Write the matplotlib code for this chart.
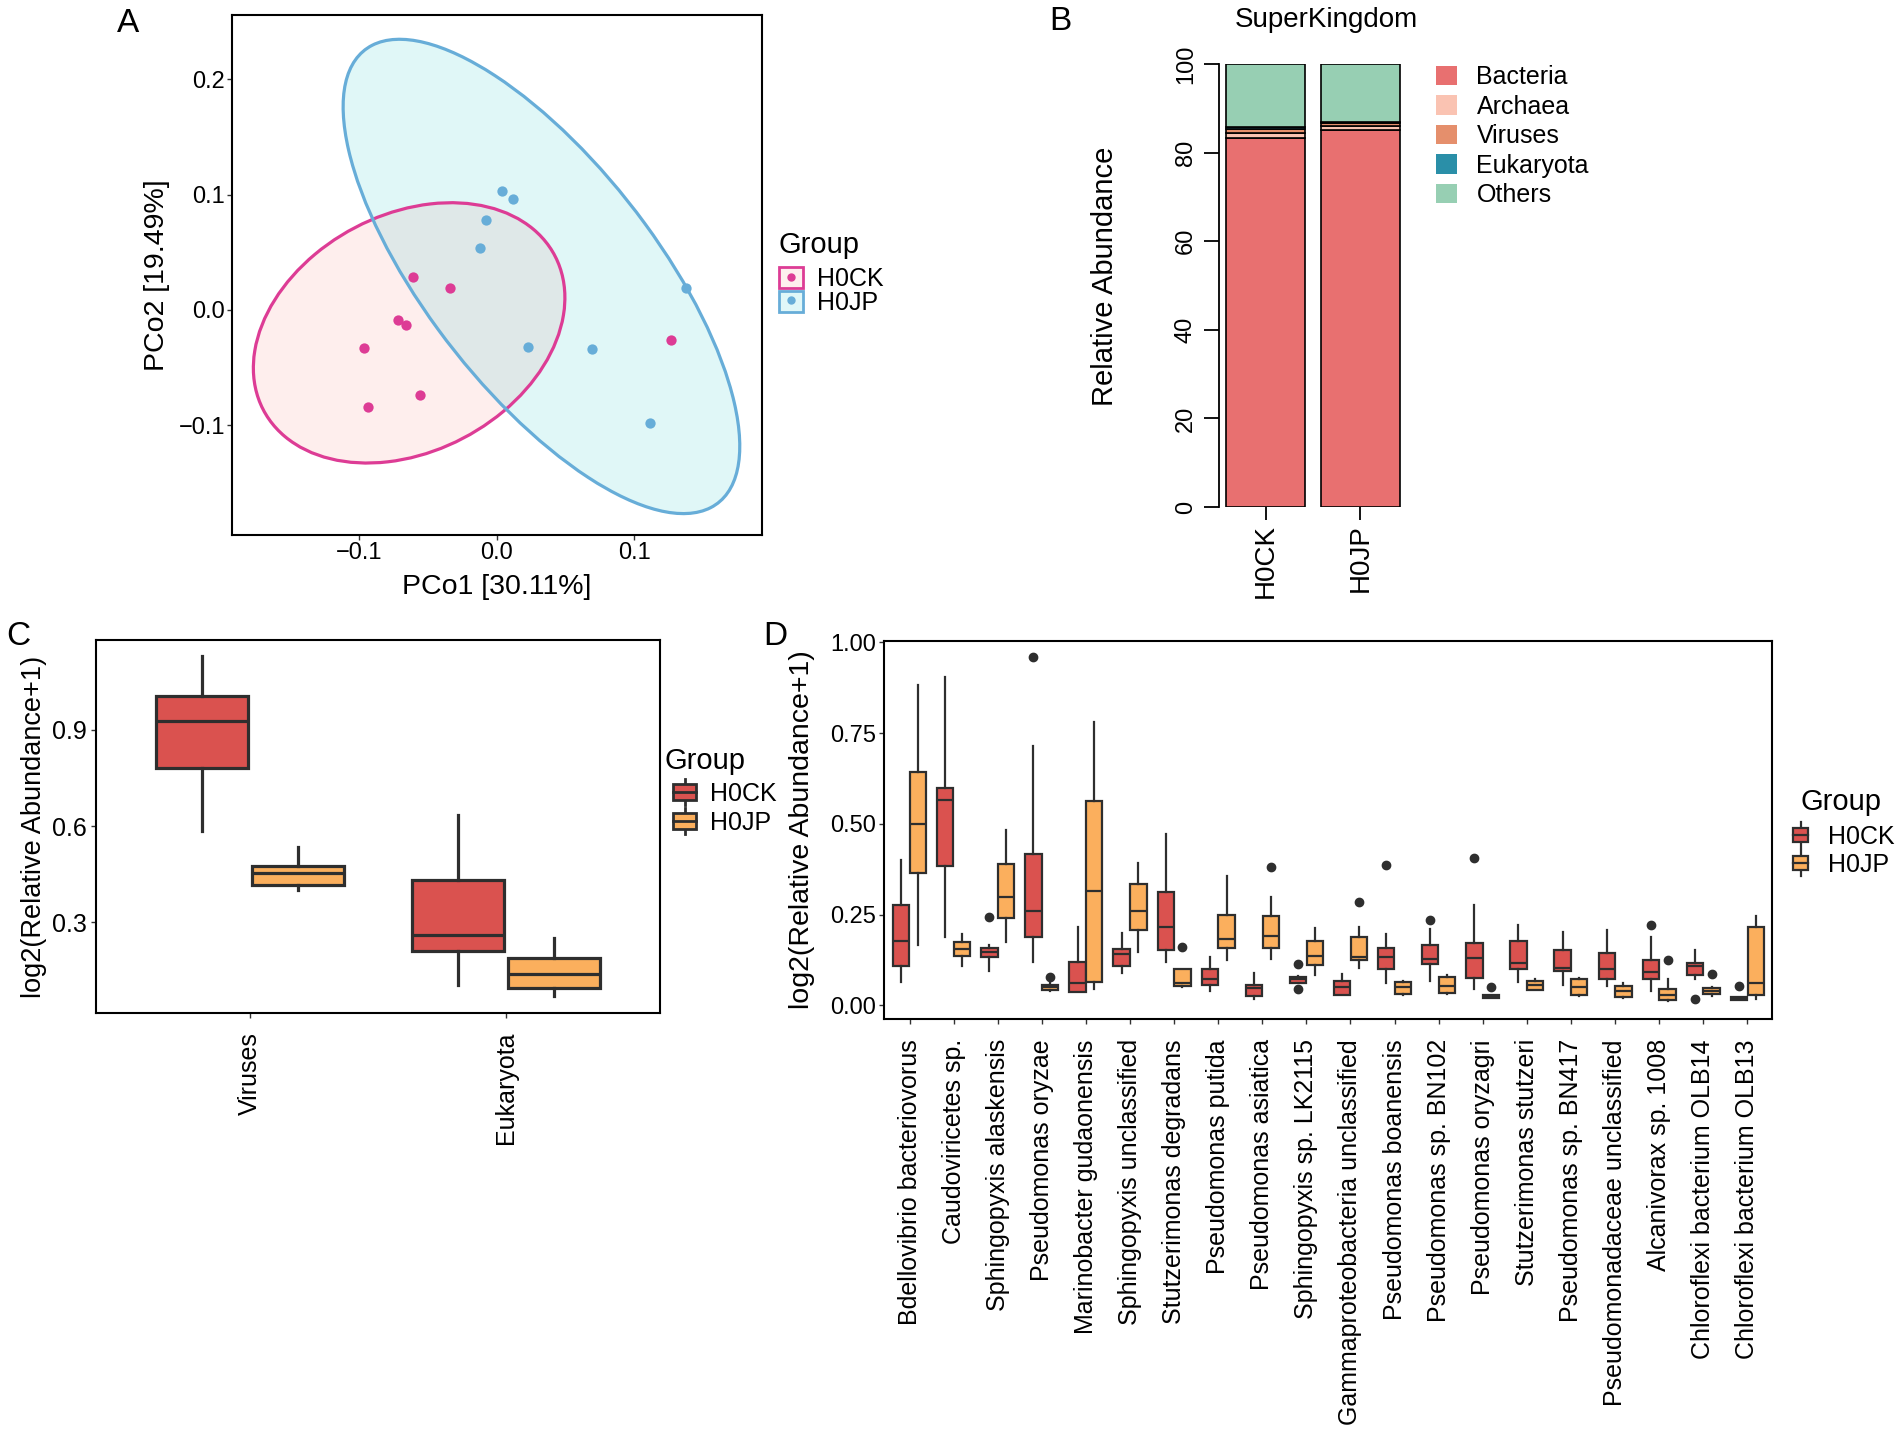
import numpy as np
import matplotlib
matplotlib.use('Agg')
import matplotlib.pyplot as plt
from matplotlib.patches import Ellipse, Patch, Rectangle
from matplotlib.lines import Line2D
from matplotlib.legend_handler import HandlerBase

plt.rcParams['font.family'] = ['Liberation Sans', 'DejaVu Sans']

W, H = 1902, 1438

# ---------------- data ----------------
# A: PCoA scores
ck_pc1 = [-0.0607, -0.0338, -0.0716, -0.0655, -0.0963, -0.0936, -0.0558, 0.1266]
ck_pc2 = [0.0282, 0.0192, -0.0086, -0.0134, -0.0330, -0.0842, -0.0739, -0.0265]
jp_pc1 = [0.0040, 0.0119, -0.0079, -0.0119, 0.0224, 0.0690, 0.1112, 0.1376]
jp_pc2 = [0.1034, 0.0966, 0.0780, 0.0540, -0.0323, -0.0337, -0.0979, 0.0192]
# ellipse centre and shape matrix
ck_ell_center = [-0.0635, -0.020]
ck_ell_shape = [[0.01277, 0.00345], [0.00345, 0.01277]]
jp_ell_center = [0.0325, 0.029]
jp_ell_shape = [[0.0207, -0.0212], [-0.0212, 0.0424]]

# B: superkingdom composition (%)
groups = ['H0CK', 'H0JP']
kingdoms = ['Bacteria', 'Archaea', 'Viruses', 'Eukaryota', 'Others']
abund = {
    'Bacteria': [83.3, 85.0],
    'Archaea': [1.1, 1.1],
    'Viruses': [1.0, 0.5],
    'Eukaryota': [0.3, 0.3],
    'Others': [14.3, 13.1],
}

# C: box stats [whislo, q1, med, q3, whishi]
c_cats = ['Viruses', 'Eukaryota']
c_ck = [[0.585, 0.780, 0.928, 1.006, 1.129],
        [0.104, 0.210, 0.260, 0.433, 0.635]]
c_jp = [[0.402, 0.415, 0.453, 0.477, 0.536],
        [0.070, 0.096, 0.139, 0.189, 0.251]]

# D: species box stats [whislo, q1, med, q3, whishi] + outliers
d_species = ['Bdellovibrio bacteriovorus', 'Caudoviricetes sp.', 'Sphingopyxis alaskensis',
             'Pseudomonas oryzae', 'Marinobacter gudaonensis', 'Sphingopyxis unclassified',
             'Stutzerimonas degradans', 'Pseudomonas putida', 'Pseudomonas asiatica',
             'Sphingopyxis sp. LK2115', 'Gammaproteobacteria unclassified', 'Pseudomonas boanensis',
             'Pseudomonas sp. BN102', 'Pseudomonas oryzagri', 'Stutzerimonas stutzeri',
             'Pseudomonas sp. BN417', 'Pseudomonadaceae unclassified', 'Alcanivorax sp. 1008',
             'Chloroflexi bacterium OLB14', 'Chloroflexi bacterium OLB13']
d_ck = [[0.064, 0.109, 0.177, 0.275, 0.401],
        [0.188, 0.383, 0.567, 0.598, 0.906],
        [0.094, 0.132, 0.146, 0.158, 0.166],
        [0.118, 0.188, 0.259, 0.418, 0.714],
        [0.036, 0.036, 0.060, 0.120, 0.216],
        [0.089, 0.109, 0.142, 0.156, 0.199],
        [0.118, 0.153, 0.216, 0.311, 0.473],
        [0.040, 0.057, 0.073, 0.101, 0.133],
        [0.016, 0.025, 0.047, 0.057, 0.089],
        [0.060, 0.062, 0.071, 0.077, 0.080],
        [0.027, 0.029, 0.050, 0.066, 0.086],
        [0.062, 0.100, 0.133, 0.158, 0.195],
        [0.066, 0.114, 0.128, 0.165, 0.210],
        [0.045, 0.075, 0.129, 0.172, 0.275],
        [0.063, 0.101, 0.117, 0.176, 0.222],
        [0.057, 0.094, 0.103, 0.153, 0.201],
        [0.054, 0.071, 0.101, 0.144, 0.208],
        [0.039, 0.071, 0.092, 0.126, 0.188],
        [0.071, 0.082, 0.107, 0.115, 0.152],
        [0.013, 0.013, 0.017, 0.022, 0.022]]
d_ck_out = [[], [], [0.244], [0.959], [], [], [], [], [], [0.114, 0.045],
            [], [0.387], [0.234], [0.405], [], [], [], [0.222], [0.018], [0.054]]
d_jp = [[0.166, 0.365, 0.500, 0.643, 0.884],
        [0.107, 0.135, 0.155, 0.174, 0.197],
        [0.174, 0.241, 0.297, 0.389, 0.484],
        [0.039, 0.043, 0.050, 0.057, 0.062],
        [0.045, 0.064, 0.316, 0.563, 0.782],
        [0.147, 0.207, 0.261, 0.335, 0.392],
        [0.050, 0.054, 0.062, 0.100, 0.100],
        [0.124, 0.158, 0.183, 0.248, 0.357],
        [0.128, 0.158, 0.190, 0.245, 0.299],
        [0.082, 0.110, 0.137, 0.176, 0.213],
        [0.103, 0.126, 0.133, 0.187, 0.216],
        [0.029, 0.032, 0.050, 0.063, 0.066],
        [0.032, 0.034, 0.052, 0.078, 0.084],
        [0.020, 0.020, 0.025, 0.029, 0.029],
        [0.041, 0.043, 0.057, 0.068, 0.071],
        [0.025, 0.028, 0.050, 0.073, 0.075],
        [0.020, 0.023, 0.039, 0.054, 0.060],
        [0.011, 0.013, 0.028, 0.045, 0.071],
        [0.025, 0.031, 0.039, 0.048, 0.050],
        [0.017, 0.029, 0.062, 0.216, 0.247]]
d_jp_out = [[], [], [], [0.078], [], [], [0.160], [], [0.382], [],
            [0.284], [], [], [0.050], [], [], [], [0.124], [0.087], []]

# ---------------- styles ----------------
PINK, BLUE = '#DD3C95', '#67ADD8'
RED, ORANGE = '#DA524F', '#FBAF5D'
EDGE = '#2E2E2E'
K_COLORS = ['#E87070', '#FAC3B2', '#E58F6C', '#2A8FA8', '#97CFB3']

fig = plt.figure(figsize=(W / 100, H / 100), dpi=100)


def px_axes(x0, y0, x1, y1):
    return fig.add_axes([x0 / W, 1 - y1 / H, (x1 - x0) / W, (y1 - y0) / H])


def frame(ax, lw=1.5):
    for s in ax.spines.values():
        s.set_linewidth(lw)
        s.set_color('black')


def to_stats(rows, outs=None):
    res = []
    for i, r in enumerate(rows):
        res.append(dict(whislo=r[0], q1=r[1], med=r[2], q3=r[3], whishi=r[4],
                        fliers=(outs[i] if outs else [])))
    return res


def group_title(x, y):
    fig.text(x / W, 1 - y / H, 'Group', fontsize=21, ha='left', va='center')


class BoxKey(HandlerBase):
    def __init__(self, lw, ext):
        super().__init__()
        self.lw = lw
        self.ext = ext

    def create_artists(self, legend, orig_handle, xdescent, ydescent, width, height, fontsize, trans):
        x0, y0 = -xdescent, -ydescent
        cx = x0 + width / 2
        fc = orig_handle.get_facecolor()
        wl = Line2D([cx, cx], [y0 - self.ext * height, y0 + (1 + self.ext) * height],
                    color=EDGE, lw=self.lw, transform=trans)
        box = Rectangle((x0, y0), width, height, facecolor=fc, edgecolor=EDGE,
                        lw=self.lw, transform=trans)
        med = Line2D([x0, x0 + width], [y0 + height / 2] * 2, color=EDGE, lw=self.lw, transform=trans)
        return [wl, box, med]


# ---------------- A ----------------
axA = px_axes(232, 15, 762, 535)
for c, S, col, fcol in [(ck_ell_center, ck_ell_shape, PINK, '#F8766D'),
                        (jp_ell_center, jp_ell_shape, BLUE, '#00BFC4')]:
    vals, vecs = np.linalg.eigh(np.array(S))
    ang = np.degrees(np.arctan2(vecs[1, 1], vecs[0, 1]))
    e = Ellipse(c, 2 * np.sqrt(vals[1]), 2 * np.sqrt(vals[0]), angle=ang,
                facecolor=fcol, alpha=0.12, edgecolor='none', zorder=1)
    axA.add_patch(e)
for c, S, col in [(ck_ell_center, ck_ell_shape, PINK), (jp_ell_center, jp_ell_shape, BLUE)]:
    vals, vecs = np.linalg.eigh(np.array(S))
    ang = np.degrees(np.arctan2(vecs[1, 1], vecs[0, 1]))
    e = Ellipse(c, 2 * np.sqrt(vals[1]), 2 * np.sqrt(vals[0]), angle=ang,
                facecolor='none', edgecolor=col, lw=2.3, zorder=2)
    axA.add_patch(e)
axA.scatter(ck_pc1, ck_pc2, s=55, color=PINK, zorder=3, linewidths=0)
axA.scatter(jp_pc1, jp_pc2, s=55, color=BLUE, zorder=3, linewidths=0)
axA.set_xlim(-0.192, 0.1925)
axA.set_ylim(-0.1955, 0.256)
axA.set_xticks([-0.1, 0.0, 0.1])
axA.set_xticklabels(['\u22120.1', '0.0', '0.1'])
axA.set_yticks([-0.1, 0.0, 0.1, 0.2])
axA.set_yticklabels(['\u22120.1', '0.0', '0.1', '0.2'])
axA.tick_params(labelsize=17, length=3.5, width=1, pad=1.5, color='#333333')
axA.set_xlabel('PCo1 [30.11%]', fontsize=20.5)
axA.set_ylabel('PCo2 [19.49%]', fontsize=20.5)
axA.xaxis.set_label_coords(0.5, -0.075)
axA.yaxis.set_label_coords(-0.117, 0.5)
frame(axA)
handlesA = [(Patch(facecolor='#FEEFEE', edgecolor=PINK, lw=2),
             Line2D([], [], ls='none', marker='o', ms=5, color=PINK)),
            (Patch(facecolor='#E0F7F8', edgecolor=BLUE, lw=2),
             Line2D([], [], ls='none', marker='o', ms=5, color=BLUE))]
group_title(779, 245)
fig.legend(handlesA, groups, loc='upper left', bbox_to_anchor=(779 / W, 1 - 267 / H),
           frameon=False, borderpad=0, borderaxespad=0, fontsize=18,
           handlelength=0.96, handleheight=0.92, labelspacing=-0.02, handletextpad=0.55)

# ---------------- B ----------------
axB = px_axes(1219, 64, 1407, 507)
xb = [0.7, 1.9]
bottom = np.zeros(2)
for k, col in zip(kingdoms, K_COLORS):
    axB.bar(xb, abund[k], width=1.0, bottom=bottom, color=col, edgecolor='black', lw=1.2, zorder=2)
    bottom += np.array(abund[k])
axB.set_xlim(0.11, 2.49)
axB.set_ylim(0, 100)
for s in ['top', 'right', 'bottom']:
    axB.spines[s].set_visible(False)
axB.spines['left'].set_linewidth(1.3)
axB.set_yticks(range(0, 101, 20))
axB.tick_params(axis='y', labelsize=17, length=11, width=1.3, pad=5, labelrotation=90)
for lab in axB.get_yticklabels():
    lab.set_va('center')
axB.set_xticks(xb)
axB.set_xticklabels(groups, rotation=90, fontsize=20)
axB.tick_params(axis='x', length=9, width=1.3, pad=3)
axB.set_ylabel('Relative Abundance', fontsize=21)
axB.yaxis.set_label_coords(-0.53, 0.52)
fig.text(1326 / W, 1 - 20 / H, 'SuperKingdom', fontsize=20, ha='center', va='center')
handlesB = [Patch(facecolor=col, edgecolor='none') for col in K_COLORS]
fig.legend(handlesB, kingdoms, loc='upper left', bbox_to_anchor=(1436 / W, 1 - 65 / H),
           frameon=False, borderpad=0, borderaxespad=0, fontsize=18,
           handlelength=0.82, handleheight=0.82, labelspacing=0.22, handletextpad=0.8)

# ---------------- C ----------------
axC = px_axes(96, 640, 660, 1013)
xc = np.arange(1, len(c_cats) + 1)
for stats, off, col in [(c_ck, -0.1875, RED), (c_jp, 0.1875, ORANGE)]:
    axC.bxp(to_stats(stats), positions=xc + off, widths=0.36, patch_artist=True,
            showcaps=False, showfliers=False,
            boxprops=dict(facecolor=col, edgecolor=EDGE, lw=2.3),
            medianprops=dict(color=EDGE, lw=2.3),
            whiskerprops=dict(color=EDGE, lw=2.3))
axC.set_xlim(0.4, 2.6)
axC.set_ylim(0.018, 1.179)
axC.set_xticks(xc)
axC.set_xticklabels(c_cats, rotation=90, fontsize=18)
axC.set_yticks([0.3, 0.6, 0.9])
axC.set_yticklabels(['0.3', '0.6', '0.9'])
axC.tick_params(axis='y', labelsize=18, length=3.5, width=1, pad=3, color='#333333')
axC.tick_params(axis='x', length=3.5, width=1, pad=10, color='#333333')
axC.set_ylabel('log2(Relative Abundance+1)', fontsize=19.5)
axC.yaxis.set_label_coords(-0.087, 0.5)
frame(axC)
hC = [Patch(facecolor=RED), Patch(facecolor=ORANGE)]
group_title(664, 761)
fig.legend(hC, groups, loc='upper left', bbox_to_anchor=(673 / W, 1 - 782 / H),
           frameon=False, borderpad=0, borderaxespad=0, fontsize=18,
           handlelength=0.92, handleheight=0.6, labelspacing=0.19, handletextpad=0.55,
           handler_map={hC[0]: BoxKey(2.0, 0.33), hC[1]: BoxKey(2.0, 0.33)})

# ---------------- D ----------------
axD = px_axes(884, 641, 1772, 1019)
xd = np.arange(1, len(d_species) + 1)
for stats, outs, off, col in [(d_ck, d_ck_out, -0.19, RED), (d_jp, d_jp_out, 0.19, ORANGE)]:
    axD.bxp(to_stats(stats, outs), positions=xd + off, widths=0.37, patch_artist=True,
            showcaps=False, showfliers=True,
            boxprops=dict(facecolor=col, edgecolor=EDGE, lw=1.6),
            medianprops=dict(color=EDGE, lw=1.6),
            whiskerprops=dict(color=EDGE, lw=1.6),
            flierprops=dict(marker='o', markerfacecolor=EDGE, markeredgecolor=EDGE, markersize=6))
axD.set_xlim(0.42, 20.56)
axD.set_ylim(-0.038, 1.004)
axD.set_xticks(xd)
axD.set_xticklabels(d_species, rotation=90, fontsize=18)
axD.set_yticks([0, 0.25, 0.5, 0.75, 1.0])
axD.set_yticklabels(['0.00', '0.25', '0.50', '0.75', '1.00'])
axD.tick_params(axis='y', labelsize=17, length=3.5, width=1, pad=2, color='#333333')
axD.tick_params(axis='x', length=3.5, width=1, pad=11, color='#333333')
axD.set_ylabel('log2(Relative Abundance+1)', fontsize=20.5)
axD.yaxis.set_label_coords(-0.078, 0.5)
frame(axD)
hD = [Patch(facecolor=RED), Patch(facecolor=ORANGE)]
group_title(1800, 802)
fig.legend(hD, groups, loc='upper left', bbox_to_anchor=(1793 / W, 1 - 825 / H),
           frameon=False, borderpad=0, borderaxespad=0, fontsize=18,
           handlelength=0.6, handleheight=0.5, labelspacing=0.15, handletextpad=0.8,
           handler_map={hD[0]: BoxKey(1.6, 0.4), hD[1]: BoxKey(1.6, 0.4)})

# panel letters
for lab, x, y in [('A', 128, 24), ('B', 1060, 21), ('C', 18, 637), ('D', 775, 637)]:
    fig.text(x / W, 1 - y / H, lab, fontsize=24, ha='center', va='center')

fig.savefig('out.png', dpi=100)
